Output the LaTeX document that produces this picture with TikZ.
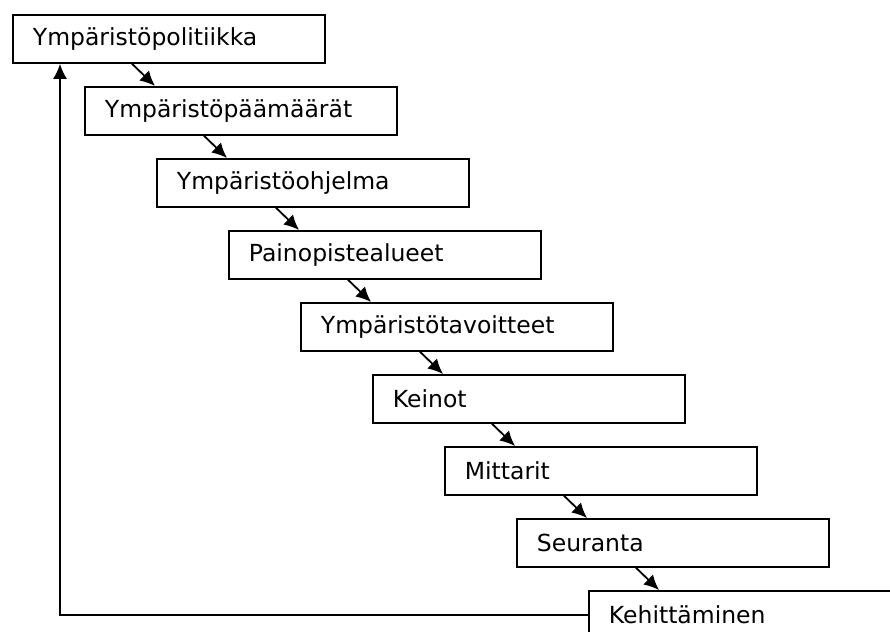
\documentclass[tikz,border=0pt]{standalone}
\usepackage{fontspec}
\setmainfont{DejaVu Sans}
\usetikzlibrary{arrows.meta}

\tikzset{
  stagebox/.style={draw, line width=1.8pt, anchor=north west, minimum width=312pt,
    minimum height=48pt, text width=272pt, inner xsep=20pt, inner ysep=0pt,
    align=left, font=\fontsize{23.5}{26}\selectfont},
  flowarrow/.style={line width=1.8pt, -{Latex[length=15pt,width=14pt]}}
}

\begin{document}
\begin{tikzpicture}[x=1pt, y=-1pt]
		\useasboundingbox (0,0) rectangle (890,631);
		\clip (0,0) rectangle (890,631);
		\foreach \name [count=\i from 0] in {Ympäristöpolitiikka, Ympäristöpäämäärät,
		  Ympäristöohjelma, Painopistealueet, Ympäristötavoitteet, Keinot, Mittarit,
		  Seuranta, Kehittäminen} {
		  \node[stagebox] (b\i) at ({12+72*\i}, {14+72*\i}) {\name};
		}
		\foreach \i in {0, ..., 7} {
		  \pgfmathtruncatemacro{\j}{\i+1}
		  \draw[flowarrow] ([xshift=120pt]b\i.south west) -- ([xshift=71pt]b\j.north west);
		}
		% paluu alkuun
		\draw[flowarrow] (b8.west) -| ([xshift=48pt]b0.south west);
		
	\end{tikzpicture}
\end{document}
